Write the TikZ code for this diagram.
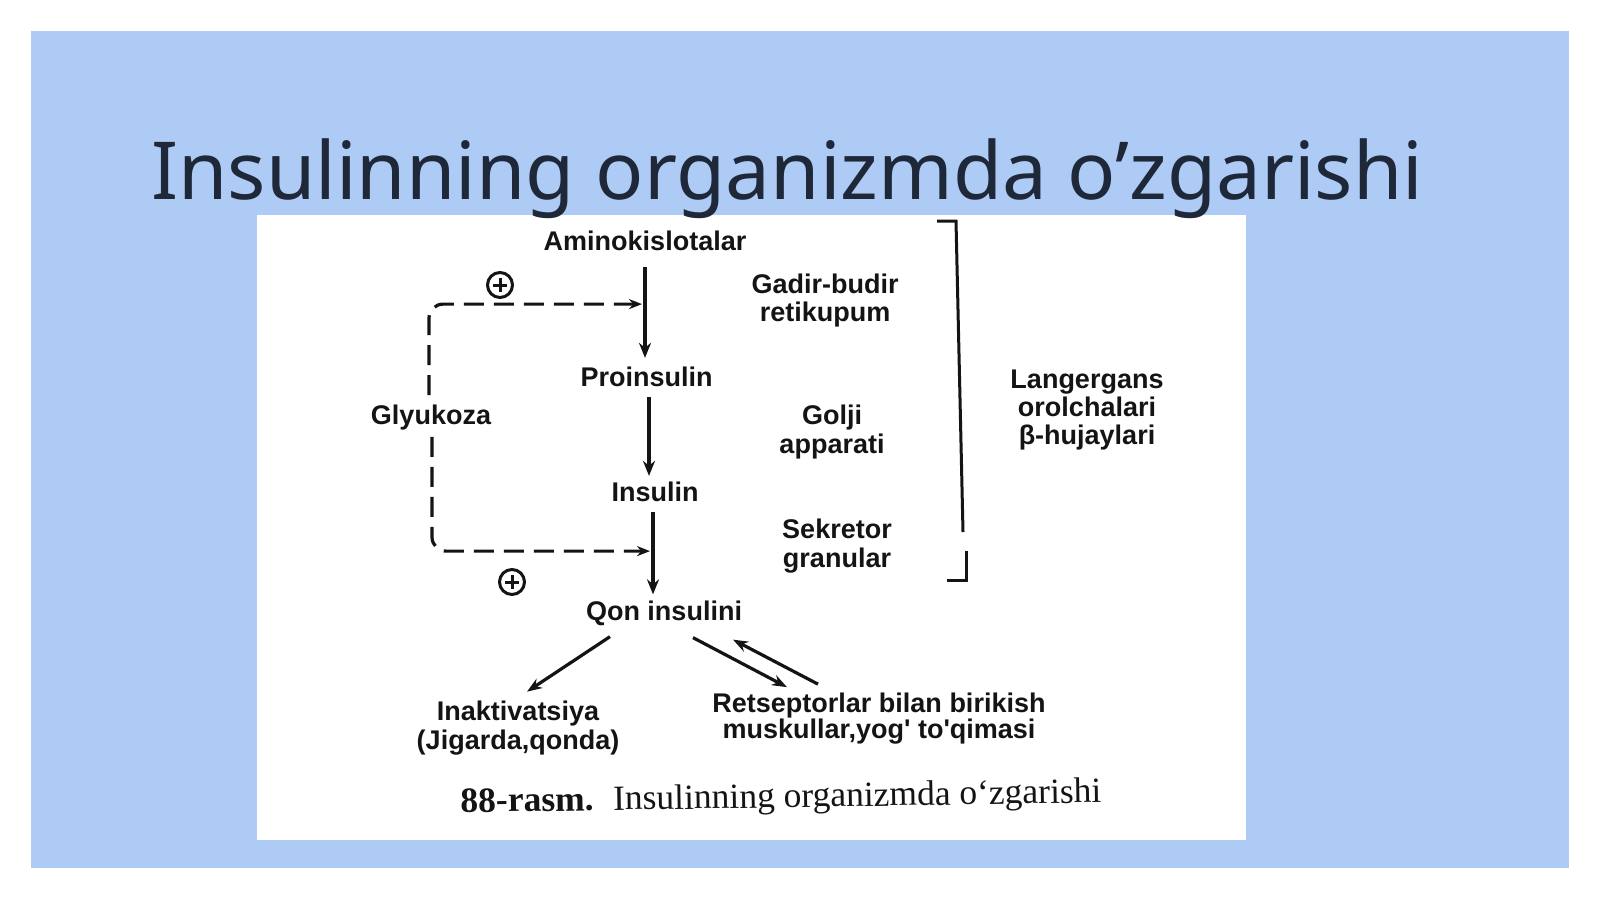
\documentclass[tikz,border=0pt]{standalone}
\usepackage{fontspec}
\setmainfont{Liberation Serif}
\newfontfamily\diagfont{Liberation Sans}
\newfontfamily\titlefont{Noto Sans}
\usetikzlibrary{arrows.meta,calc}
\definecolor{bgblue}{RGB}{174,203,246}
\definecolor{titlecol}{RGB}{30,40,56}
\definecolor{ink}{RGB}{20,20,20}
\begin{document}
\begin{tikzpicture}[x=1pt,y=-1pt,
  lbl/.style={font=\diagfont\bfseries\fontsize{27}{28}\selectfont, inner sep=0pt, align=center, text=ink},
  flow/.style={draw=ink, line width=4pt, -{Stealth[length=15pt,width=12pt]}},
  thin arrow/.style={draw=ink, line width=3.2pt, -{Stealth[length=15pt,width=11pt]}},
  fb/.style={draw=ink, line width=3.2pt, dash pattern=on 20pt off 10pt, rounded corners=14pt, -{Stealth[length=13pt,width=10pt]}},
  plus/.style={circle, draw=ink, line width=3pt, minimum size=25pt, inner sep=0pt,
    path picture={\draw[ink, line width=3pt] (path picture bounding box.center) +(-7,0) -- +(7,0) +(0,-7) -- +(0,7);}},
  brk/.style={draw=ink, line width=3pt}
]
\useasboundingbox (0,0) rectangle (1600,899);
\fill[white] (0,0) rectangle (1600,899);
\fill[bgblue] (31,31) rectangle (1569,868);
\fill[white] (257,215) rectangle (1246,840);
\node[anchor=base west, inner sep=0pt, text=titlecol, font=\titlefont\fontsize{80}{90}\selectfont] (title) at (151,199) {Insulinning organizmda o’zgarishi};

% nodes
\node[lbl] (amino) at (645,241) {Aminokislotalar};
\node[lbl] (pro) at (646.5,377) {Proinsulin};
\node[lbl] (ins) at (655,492) {Insulin};
\node[lbl] (qon) at (664,613) {Qon insulini};
\node[lbl] (gly) at (431,418) {Glyukoza};
\node[lbl] (gadir) at (825,301) {Gadir-budir\\retikupum};
\node[lbl, font=\diagfont\bfseries\fontsize{27}{29}\selectfont] (golji) at (832,432) {Golji\\apparati};
\node[lbl, font=\diagfont\bfseries\fontsize{27}{29}\selectfont] (sekr) at (837,546) {Sekretor\\granular};
\node[lbl] (lang) at (1087,410) {Langergans\\orolchalari\\β-hujaylari};
\node[lbl, font=\diagfont\bfseries\fontsize{27}{29}\selectfont] (inak) at (518,728) {Inaktivatsiya\\(Jigarda,qonda)};
\node[lbl, font=\diagfont\bfseries\fontsize{27}{26}\selectfont] (rets) at (879,719) {Retseptorlar bilan birikish\\muskullar,yog' to'qimasi};
\node[anchor=center, inner sep=0pt, rotate=0.9, text=ink] (cap) at (781,799) {\fontsize{35.5}{38}\selectfont\textbf{88-rasm.}\hspace{0.55em}Insulinning organizmda o‘zgarishi};

\node[plus] (p1) at (500,285) {};
\node[plus] (p2) at (512,582) {};

% main flow
\draw[flow] ($(amino.south)+(0,16)$) -- ($(pro.north)+(-1.5,-9)$);
\draw[flow] ($(pro.south)+(2.5,10)$) -- ($(ins.north)+(-6,-6)$);
\draw[flow] ($(ins.south)+(-2,10)$) -- ($(qon.north)+(-11,-6)$);

% feedback
\draw[fb] ($(gly.north)+(-2,-10)$) |- ($(amino.south)+(-3,53)$);
\draw[fb] ($(gly.south)+(1,6)$) |- ($(ins.south)+(-5,49)$);

% outputs
\draw[thin arrow] ($(qon.south)+(-54,11)$) -- ($(inak.north)+(9,-9)$);
\draw[thin arrow] ($(qon.south)+(29,12)$) -- ($(rets.north)+(-92,-6)$);
\draw[thin arrow] ($(rets.north)+(-61,-9)$) -- ($(qon.south)+(69,14)$);

% bracket
\coordinate (b1) at (937,221);
\coordinate (b2) at (956,221);
\coordinate (b3) at (963,532);
\coordinate (b4) at (966,551);
\coordinate (b5) at (966,580);
\coordinate (b6) at (947,580);
\draw[brk] (b1) -- (b2) -- (b3);
\draw[brk] (b4) -- (b5) -- (b6);
\end{tikzpicture}
\end{document}
